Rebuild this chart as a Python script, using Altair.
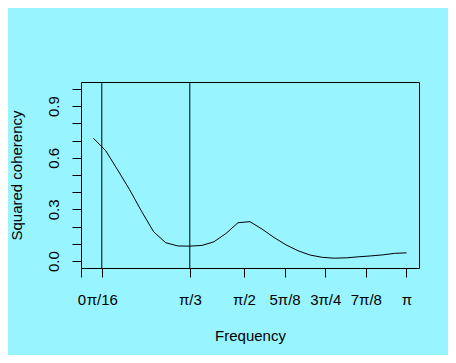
import altair as alt
import pandas as pd

# Frequencies (radians) and squared coherency
freq = [0.116, 0.233, 0.349, 0.465, 0.582, 0.698, 0.814, 0.931, 1.047, 1.164,
        1.280, 1.396, 1.513, 1.629, 1.745, 1.862, 1.978, 2.094, 2.211, 2.327,
        2.443, 2.560, 2.676, 2.793, 2.909, 3.025, 3.142]
coh = [0.713, 0.642, 0.530, 0.415, 0.288, 0.170, 0.107, 0.088, 0.087, 0.091,
       0.112, 0.160, 0.223, 0.229, 0.186, 0.137, 0.094, 0.060, 0.035, 0.022,
       0.017, 0.019, 0.025, 0.030, 0.036, 0.045, 0.048]

# vertical reference lines
vlines = [0.19635, 1.0472]

# x tick positions and labels
x_ticks = [0.0, 0.19635, 1.0472, 1.5708, 1.9635, 2.3562, 2.7489, 3.14159]
x_labels = ["0", "π/16", "π/3", "π/2", "5π/8", "3π/4", "7π/8", "π"]

# y ticks
y_ticks = [0.0, 0.1, 0.2, 0.3, 0.4, 0.5, 0.6, 0.7, 0.8, 0.9, 1.0]
y_labeled = [0.0, 0.3, 0.6, 0.9]

df = pd.DataFrame({"freq": freq, "coh": coh})
dv = pd.DataFrame({"x": vlines})

x_expr = " : ".join(
    [f"abs(datum.value - {v}) < 0.001 ? '{l}'" for v, l in zip(x_ticks, x_labels)]
) + " : ''"
y_expr = "indexof([" + ",".join(str(v) for v in y_labeled) + "], datum.value) >= 0 ? format(datum.value, '.1f') : ''"

FONT = "Liberation Sans"
FS = 15

xscale = alt.Scale(domain=[-0.0046, 3.2626], nice=False, zero=False)
yscale = alt.Scale(domain=[-0.04, 1.04], nice=False, zero=False)

xaxis = alt.Axis(
    title="Frequency", values=x_ticks, labelExpr=x_expr,
    labelOverlap=False, labelFlush=False, labelBound=False,
    domain=False, grid=False, ticks=True, tickSize=9, tickColor="black", tickWidth=1,
    labelColor="black", labelFont=FONT, labelFontSize=FS,
    labelBaseline="alphabetic", labelPadding=27, labelAlign="center",
    titleFont=FONT, titleFontSize=FS, titleFontWeight="normal", titleColor="black",
    titleX=169, titleY=72.5, titleBaseline="alphabetic", titleAlign="center",
)
yaxis = alt.Axis(
    title="Squared coherency", values=y_ticks, labelExpr=y_expr,
    labelOverlap=False, labelFlush=False, labelBound=False,
    domain=False, grid=False, ticks=True, tickSize=9, tickColor="black", tickWidth=1,
    labelColor="black", labelFont=FONT, labelFontSize=FS,
    labelAngle=-90, labelAlign="center", labelBaseline="alphabetic", labelPadding=14,
    titleFont=FONT, titleFontSize=FS, titleFontWeight="normal", titleColor="black",
    titleX=-60, titleY=93, titleAngle=-90, titleBaseline="alphabetic", titleAlign="center",
)

line = alt.Chart(df).mark_line(color="black", strokeWidth=1).encode(
    x=alt.X("freq:Q", scale=xscale, axis=xaxis),
    y=alt.Y("coh:Q", scale=yscale, axis=yaxis),
)

rules = alt.Chart(dv).mark_rule(color="black", strokeWidth=1).encode(
    x=alt.X("x:Q", scale=xscale),
)

chart = alt.layer(rules, line).properties(
    width=338, height=186,
    padding={"left": 73, "top": 74, "right": 29, "bottom": 87},
    autosize=alt.AutoSizeParams(type="none"),
    background="#98F5FF",
).configure_view(stroke="black", strokeWidth=1)

chart.save("out.html", embed_options={"renderer": "svg", "actions": False})
